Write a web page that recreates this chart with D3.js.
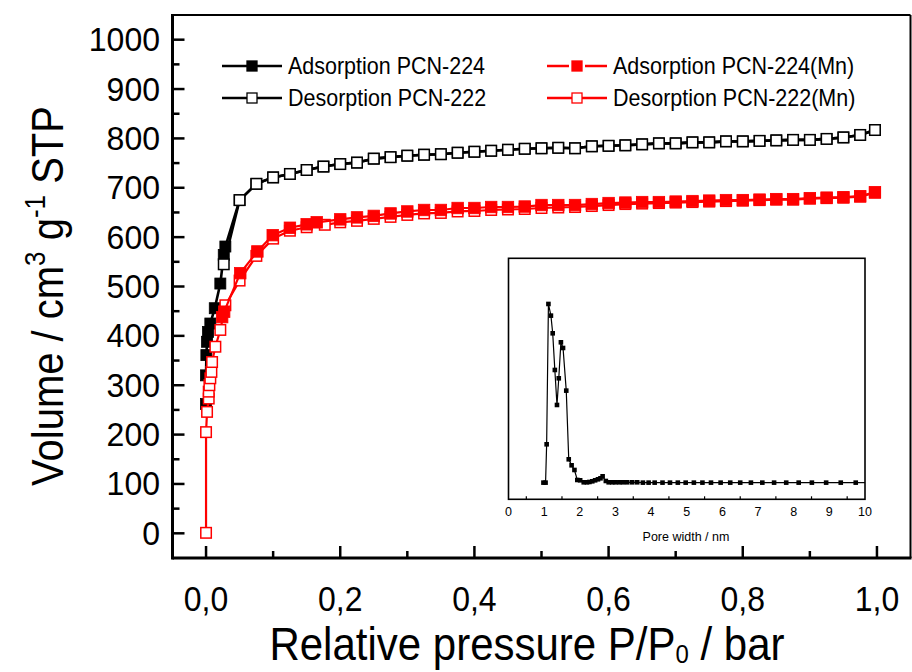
<!DOCTYPE html>
<html><head><meta charset="utf-8">
<script src="https://cdn.jsdelivr.net/npm/d3@7"></script>
<style>
body{margin:0;background:#fff}
svg{display:block}
text{font-family:"Liberation Sans",Arial,sans-serif;fill:#000}
</style>
</head><body>
<svg id="chart" width="912" height="672"></svg>
<script>
// ---------------- data ----------------
const xTickValues = [0, 0.2, 0.4, 0.6, 0.8, 1.0];
const xTickLabels = ["0,0", "0,2", "0,4", "0,6", "0,8", "1,0"];
const xMinorValues = [0.1, 0.3, 0.5, 0.7, 0.9];
const yTickValues = [0, 100, 200, 300, 400, 500, 600, 700, 800, 900, 1000];
const yTickLabels = ["0", "100", "200", "300", "400", "500", "600", "700", "800", "900", "1000"];
const yMinorValues = [50, 150, 250, 350, 450, 550, 650, 750, 850, 950];

// Black, PCN-224 adsorption (filled)
const blackAdsP = [0.000, 0.000, 0.0005, 0.0015, 0.003, 0.0064, 0.013, 0.0213, 0.0264, 0.0288,
  0.05, 0.075, 0.10, 0.125, 0.15, 0.175, 0.20, 0.225, 0.25, 0.275, 0.30, 0.325, 0.35, 0.375, 0.40,
  0.425, 0.45, 0.475, 0.50, 0.525, 0.55, 0.575, 0.60, 0.625, 0.65, 0.675, 0.70, 0.725, 0.75, 0.775,
  0.80, 0.825, 0.85, 0.875, 0.90, 0.925, 0.95, 0.975, 0.997];
const blackAdsV = [262, 320, 361, 388, 408, 425, 456, 506, 564, 581,
  675, 708, 721, 728, 736, 743, 748, 751, 759, 762, 765, 767, 768, 771, 773,
  775, 777, 779, 780, 781, 780, 784, 785, 786, 788, 790, 790, 792, 792, 794,
  794, 795, 796, 797, 797, 799, 802, 807, 817];

// Black, PCN-222 desorption (open)
const blackDesP = [0.0264, 0.05, 0.075, 0.10, 0.125, 0.15, 0.175, 0.20, 0.225, 0.25, 0.275, 0.30,
  0.325, 0.35, 0.375, 0.40, 0.425, 0.45, 0.475, 0.50, 0.525, 0.55, 0.575, 0.60, 0.625, 0.65, 0.675,
  0.70, 0.725, 0.75, 0.775, 0.80, 0.825, 0.85, 0.875, 0.90, 0.925, 0.95, 0.975, 0.997];
const blackDesV = [545, 675, 708, 721, 728, 736, 743, 748, 751, 759, 762, 765,
  767, 768, 771, 773, 775, 777, 779, 780, 781, 780, 784, 785, 786, 788, 790,
  790, 792, 792, 794, 794, 795, 796, 797, 797, 799, 802, 807, 817];

// Red, PCN-222(Mn) desorption (open)
const redDesP = [0.000, 0.000, 0.0015, 0.004, 0.004, 0.005, 0.0064, 0.008, 0.009, 0.0139, 0.0213, 0.0288,
  0.05, 0.075, 0.10, 0.125, 0.15, 0.177, 0.20, 0.225, 0.25, 0.275, 0.30, 0.325, 0.35, 0.375, 0.40,
  0.425, 0.45, 0.475, 0.50, 0.525, 0.55, 0.575, 0.60, 0.625, 0.65, 0.675, 0.70, 0.725, 0.75, 0.775,
  0.80, 0.825, 0.85, 0.875, 0.90, 0.925, 0.95, 0.975, 0.997];
const redDesV = [1, 205, 246, 273, 287, 300, 314, 327, 347, 378, 412, 462,
  512, 562, 597, 613, 620, 625, 630, 633, 637, 641, 645, 648, 649, 652, 653,
  655, 656, 657, 659, 660, 661, 663, 665, 667, 668, 669, 670, 671, 672, 673,
  674, 675, 676, 676, 678, 679, 680, 682, 690];

// Red, PCN-224(Mn) adsorption (filled)
const redAdsP = [0.024, 0.027, 0.051, 0.0765, 0.0994, 0.125, 0.15, 0.165, 0.20, 0.225, 0.25, 0.275,
  0.30, 0.325, 0.35, 0.375, 0.40, 0.425, 0.45, 0.475, 0.50, 0.525, 0.55, 0.575, 0.60, 0.625, 0.65,
  0.675, 0.70, 0.725, 0.75, 0.775, 0.80, 0.825, 0.85, 0.875, 0.90, 0.925, 0.95, 0.975, 0.997];
const redAdsV = [438, 449, 527, 571, 604, 619, 626, 630, 636, 640, 643, 648,
  652, 655, 655, 659, 659, 661, 661, 662, 665, 665, 665, 667, 669, 670, 671,
  671, 672, 673, 674, 675, 675, 676, 677, 677, 679, 680, 681, 683, 691];

// Inset: pore size distribution
const poreWidth = [0.98, 1.04, 1.07, 1.12, 1.19, 1.24, 1.30, 1.36, 1.41, 1.47, 1.53, 1.62, 1.69, 1.77,
  1.85, 1.93, 2.01, 2.11, 2.20, 2.27, 2.35, 2.43, 2.51, 2.58, 2.64, 2.73, 2.81, 2.91, 3.00, 3.11,
  3.21, 3.33, 3.47, 3.61, 3.77, 3.93, 4.10, 4.32, 4.53, 4.75, 4.97, 5.20, 5.44, 5.68, 5.95, 6.22,
  6.50, 6.80, 7.12, 7.45, 7.79, 8.14, 8.51, 8.91, 9.32, 9.74];
const poreVolume = [0.000, 0.000, 0.115, 0.536, 0.501, 0.448, 0.338, 0.233, 0.313, 0.421, 0.404, 0.276, 0.070, 0.052,
  0.038, 0.008, 0.007, 0.001, 0.001, 0.002, 0.004, 0.007, 0.010, 0.013, 0.019, 0.005, 0.001, 0.001, 0.001, 0.001,
  0.001, 0.001, 0.001, 0.001, 0.000, 0.000, 0.000, 0.000, 0.000, 0.000, 0.000, 0.000, 0.000, 0.000, 0.000, 0.000,
  0.000, 0.000, 0.000, 0.000, 0.000, 0.000, 0.000, 0.000, 0.000, 0.000];
const insetTickValues = [0, 1, 2, 3, 4, 5, 6, 7, 8, 9, 10];
const insetMinorValues = [0.5, 1.5, 2.5, 3.5, 4.5, 5.5, 6.5, 7.5, 8.5, 9.5];

const legendLabels = ["Adsorption PCN-224", "Desorption PCN-222", "Adsorption PCN-224(Mn)", "Desorption PCN-222(Mn)"];

// ---------------- drawing ----------------
const svg = d3.select("#chart");
svg.append("rect").attr("width", 912).attr("height", 672).attr("fill", "#fff");

const x = d3.scaleLinear().domain([-0.05, 1.05]).range([172.5, 910.5]);
const y = d3.scaleLinear().domain([-50, 1050]).range([558, 15]);
const RED = "#ff0000";

// series
const plot = svg.append("g");
function series(P, V, color, filled, lw, size) {
  const pts = d3.zip(P, V);
  const g = plot.append("g");
  g.append("path").datum(pts)
    .attr("d", d3.line().x(d => x(d[0])).y(d => y(d[1])))
    .attr("fill", "none").attr("stroke", color).attr("stroke-width", lw)
    .attr("stroke-linejoin", "round");
  g.selectAll("rect").data(pts).join("rect")
    .attr("x", d => x(d[0]) - size / 2).attr("y", d => y(d[1]) - size / 2)
    .attr("width", size).attr("height", size)
    .attr("fill", filled ? color : "#fff")
    .attr("stroke", color).attr("stroke-width", filled ? 0.8 : 1.5);
}
series(blackAdsP, blackAdsV, "#000", true, 2.6, 11);
series(blackDesP, blackDesV, "#000", false, 2.6, 10.5);
series(redDesP, redDesV, RED, false, 2.2, 10.5);
series(redAdsP, redAdsV, RED, true, 2.2, 11.5);

// axes frame
const fx0 = x(-0.05), fx1 = x(1.05), fy0 = y(1050), fy1 = y(-50);
const axes = svg.append("g");
axes.append("line").attr("x1", fx0).attr("x2", fx1).attr("y1", fy0).attr("y2", fy0).attr("stroke", "#000").attr("stroke-width", 2);
axes.append("line").attr("x1", fx1).attr("x2", fx1).attr("y1", fy0).attr("y2", fy1).attr("stroke", "#000").attr("stroke-width", 2);
axes.append("line").attr("x1", fx0).attr("x2", fx1 + 1).attr("y1", fy1).attr("y2", fy1).attr("stroke", "#000").attr("stroke-width", 3);
axes.append("line").attr("x1", fx0).attr("x2", fx0).attr("y1", fy0 - 1).attr("y2", fy1 + 1.5).attr("stroke", "#000").attr("stroke-width", 3);

// x ticks (inward)
axes.selectAll("line.xmaj").data(xTickValues).join("line").attr("class", "xmaj")
  .attr("x1", d => x(d)).attr("x2", d => x(d)).attr("y1", fy1).attr("y2", fy1 - 12)
  .attr("stroke", "#000").attr("stroke-width", 2.5);
axes.selectAll("line.xmin").data(xMinorValues).join("line").attr("class", "xmin")
  .attr("x1", d => x(d)).attr("x2", d => x(d)).attr("y1", fy1).attr("y2", fy1 - 7)
  .attr("stroke", "#000").attr("stroke-width", 2.5);
axes.selectAll("line.ymaj").data(yTickValues).join("line").attr("class", "ymaj")
  .attr("x1", fx0).attr("x2", fx0 + 12).attr("y1", d => y(d)).attr("y2", d => y(d))
  .attr("stroke", "#000").attr("stroke-width", 2.5);
axes.selectAll("line.ymin").data(yMinorValues).join("line").attr("class", "ymin")
  .attr("x1", fx0).attr("x2", fx0 + 7).attr("y1", d => y(d)).attr("y2", d => y(d))
  .attr("stroke", "#000").attr("stroke-width", 2.5);

// tick labels
axes.selectAll("text.xl").data(xTickValues).join("text").attr("class", "xl")
  .attr("transform", d => `translate(${x(d)},611) scale(1,1.1)`)
  .attr("text-anchor", "middle").attr("font-size", 32)
  .text((d, i) => xTickLabels[i]);
axes.selectAll("text.yl").data(yTickValues).join("text").attr("class", "yl")
  .attr("transform", d => `translate(160,${y(d) + 11.5}) scale(1,1.05)`)
  .attr("text-anchor", "end").attr("font-size", 32)
  .text((d, i) => yTickLabels[i]);

// axis titles
const xt = svg.append("text").attr("transform", "translate(527,660) scale(1,1.08)").attr("text-anchor", "middle")
  .attr("font-size", 42);
xt.append("tspan").text("Relative pressure P/P");
xt.append("tspan").attr("font-size", 24).attr("dy", 3).text("0");
xt.append("tspan").attr("dy", -3).text(" / bar");

const yt = svg.append("text").attr("transform", "translate(63,296) rotate(-90) scale(1,1.1)")
  .attr("text-anchor", "middle").attr("font-size", 40);
yt.append("tspan").text("Volume / cm");
yt.append("tspan").attr("font-size", 26).attr("dy", -16).text("3");
yt.append("tspan").attr("dy", 16).text(" g");
yt.append("tspan").attr("font-size", 26).attr("dy", -16).text("-1");
yt.append("tspan").attr("dy", 16).text(" STP");

// legend
const legend = svg.append("g");
const legItems = [
  {lx: 222, ly: 66, color: "#000", filled: true, gap: false},
  {lx: 222, ly: 98, color: "#000", filled: false, gap: false},
  {lx: 547, ly: 66, color: RED, filled: true, gap: true},
  {lx: 547, ly: 98, color: RED, filled: false, gap: false}
];
legItems.forEach((it, i) => {
  const g = legend.append("g");
  if (it.gap) {
    g.append("line").attr("x1", it.lx).attr("x2", it.lx + 22).attr("y1", it.ly).attr("y2", it.ly).attr("stroke", it.color).attr("stroke-width", 2.5);
    g.append("line").attr("x1", it.lx + 38).attr("x2", it.lx + 60).attr("y1", it.ly).attr("y2", it.ly).attr("stroke", it.color).attr("stroke-width", 2.5);
  } else {
    g.append("line").attr("x1", it.lx).attr("x2", it.lx + 60).attr("y1", it.ly).attr("y2", it.ly).attr("stroke", it.color).attr("stroke-width", 2.5);
  }
  g.append("rect").attr("x", it.lx + 30 - 5).attr("y", it.ly - 5).attr("width", 10).attr("height", 10)
    .attr("fill", it.filled ? it.color : "#fff").attr("stroke", it.color).attr("stroke-width", 1.3);
  g.append("text").attr("transform", `translate(${it.lx + 66},${it.ly + 7.5}) scale(1,1.08)`)
    .attr("font-size", 21.5).text(legendLabels[i]);
});

// inset
const ix = d3.scaleLinear().domain([0, 10]).range([508.5, 865]);
const iy = d3.scaleLinear().domain([-0.05, 0.673]).range([499.3, 258.3]);
const inset = svg.append("g");
inset.append("rect").attr("x", ix(0)).attr("y", iy(0.673)).attr("width", ix(10) - ix(0)).attr("height", iy(-0.05) - iy(0.673))
  .attr("fill", "#fff").attr("stroke", "none");
const ipts = d3.zip(poreWidth, poreVolume);
inset.append("path").datum(ipts).attr("d", d3.line().x(d => ix(d[0])).y(d => iy(d[1])))
  .attr("fill", "none").attr("stroke", "#000").attr("stroke-width", 1.2);
inset.append("line").attr("x1", ix(poreWidth[poreWidth.length - 1])).attr("x2", ix(10))
  .attr("y1", iy(0)).attr("y2", iy(0)).attr("stroke", "#000").attr("stroke-width", 1.2);
inset.selectAll("rect.m").data(ipts).join("rect").attr("class", "m")
  .attr("x", d => ix(d[0]) - 2.3).attr("y", d => iy(d[1]) - 2.3).attr("width", 4.6).attr("height", 4.6).attr("fill", "#000");
inset.append("rect").attr("x", ix(0)).attr("y", iy(0.673)).attr("width", ix(10) - ix(0)).attr("height", iy(-0.05) - iy(0.673))
  .attr("fill", "none").attr("stroke", "#000").attr("stroke-width", 1.6);
inset.selectAll("line.imin").data(insetMinorValues).join("line").attr("class", "imin")
  .attr("x1", d => ix(d)).attr("x2", d => ix(d)).attr("y1", iy(-0.05)).attr("y2", iy(-0.05) - 3)
  .attr("stroke", "#000").attr("stroke-width", 1.2);
inset.selectAll("text.il").data(insetTickValues).join("text").attr("class", "il")
  .attr("x", d => ix(d)).attr("y", 516).attr("text-anchor", "middle").attr("font-size", 12.5)
  .attr("fill", "#333").text(d3.format("d"));
inset.append("text").attr("x", 686).attr("y", 541).attr("text-anchor", "middle").attr("font-size", 12.5)
  .attr("fill", "#333").text("Pore width / nm");
</script>
</body></html>
